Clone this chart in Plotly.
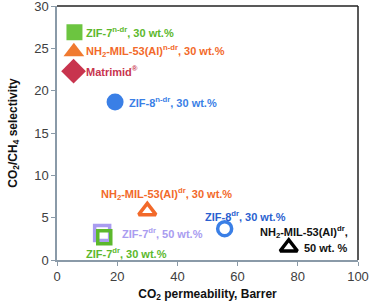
import plotly.graph_objects as go

# Data (CO2 permeability in Barrer, CO2/CH4 selectivity)
names = ["ZIF-7 n-dr 30", "NH2-MIL-53 n-dr 30", "Matrimid", "ZIF-8 n-dr 30",
         "NH2-MIL-53 dr 30", "ZIF-7 dr 50", "ZIF-7 dr 30", "ZIF-8 dr 30", "NH2-MIL-53 dr 50"]
permeability = [5.8, 5.6, 5.5, 19.3, 30.0, 15.0, 15.7, 55.7, 77.0]
selectivity = [26.9, 24.6, 22.3, 18.65, 5.8, 3.2, 2.7, 3.7, 1.5]
symbols = ["square", "triangle-up", "diamond", "circle",
           "triangle-up-open", "square-open", "square-open", "circle-open", "triangle-up-open"]
colors = ["#6cc540", "#f07a30", "#c8344e", "#3a7fe6",
          "#f2692a", "#a99cf0", "#5cb82c", "#3a7fe6", "#000000"]
sizes = [16, 18, 19, 17, 15, 15, 13, 14, 15]

labels = [
    ("ZIF-7<sup>n-dr</sup>, 30 wt.%", 9.0, 26.9, "left", "#5cb82c"),
    ("NH<sub>2</sub>-MIL-53(Al)<sup>n-dr</sup>, 30 wt.%", 9.0, 24.7, "left", "#f2692a"),
    ("Matrimid<sup>®</sup>", 9.0, 22.3, "left", "#c8344e"),
    ("ZIF-8<sup>n-dr</sup>, 30 wt.%", 23.2, 18.65, "left", "#3a7fe6"),
    ("NH<sub>2</sub>-MIL-53(Al)<sup>dr</sup>, 30 wt.%", 36.3, 7.8, "center", "#f2692a"),
    ("ZIF-7<sup>dr</sup>, 50 wt.%", 20.8, 3.2, "left", "#a99cf0"),
    ("ZIF-7<sup>dr</sup>, 30 wt.%", 8.9, 0.85, "left", "#5cb82c"),
    ("ZIF-8<sup>dr</sup>, 30 wt.%", 48.5, 5.2, "left", "#2a5fd0"),
    ("NH<sub>2</sub>-MIL-53(Al)<sup>dr</sup>,", 97.5, 3.3, "right", "#111111"),
    ("50 wt. %", 97.5, 1.4, "right", "#111111"),
]

fig = go.Figure()
for i in range(len(names)):
    open_m = symbols[i].endswith("open")
    fig.add_trace(go.Scatter(
        x=[permeability[i]], y=[selectivity[i]], mode="markers", name=names[i],
        marker=dict(symbol=symbols[i], size=sizes[i], color=colors[i],
                    line=dict(width=3.5 if open_m else 0, color=colors[i])),
        showlegend=False, cliponaxis=False))

for text, x, y, anchor, col in labels:
    fig.add_annotation(x=x, y=y, text=text, showarrow=False, xanchor=anchor, yanchor="middle",
                       font=dict(family="Liberation Sans", size=11, color=col, weight="bold"))

fig.add_shape(type="line", xref="paper", yref="paper", x0=0, x1=1, y0=1, y1=1,
              line=dict(color="#222222", width=1.5))
fig.add_shape(type="line", xref="paper", yref="paper", x0=1, x1=1, y0=0, y1=1,
              line=dict(color="#222222", width=1.5))

fig.update_layout(
    width=369, height=308,
    margin=dict(l=57, r=11, t=6, b=48, autoexpand=False),
    plot_bgcolor="white", paper_bgcolor="white",
    font=dict(family="Liberation Sans", size=13, color="#404040"),
    xaxis=dict(range=[0, 100], dtick=20, showgrid=False, zeroline=False,
               showline=True, linecolor="#8a9aa8", linewidth=1.5,
               ticks="outside", ticklen=4, tickcolor="#8a9aa8",
               ticklabeloverflow="allow", automargin=False,
               title=dict(text="CO<sub>2</sub> permeability, Barrer", standoff=6,
                          font=dict(size=12, color="#111111", weight="bold"))),
    yaxis=dict(range=[0, 30], dtick=5, showgrid=False, zeroline=False,
               showline=True, linecolor="#8a9aa8", linewidth=1.5,
               ticks="outside", ticklen=4, tickcolor="#8a9aa8",
               ticklabeloverflow="allow", automargin=False,
               title=dict(text="CO<sub>2</sub>/CH<sub>4</sub> selectivity", standoff=14,
                          font=dict(size=12, color="#111111", weight="bold"))),
)

fig.write_html("out.html", config={"displayModeBar": False},
               post_script="document.body.style.margin='0px';document.body.style.padding='0px';")
